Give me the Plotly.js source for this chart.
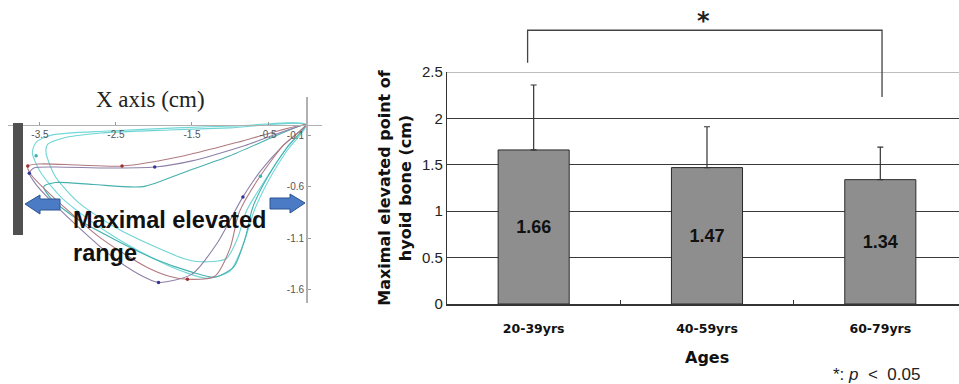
<!DOCTYPE html>
<html><head><meta charset="utf-8">
<script src="https://cdn.plot.ly/plotly-3.0.1.min.js"></script>
<style>html,body{margin:0;padding:0;background:#fff}#chart{width:959px;height:384px}</style>
</head><body><div id="chart"></div>
<script>
// ---- Bar chart data ----
const categories = ['20-39yrs', '40-59yrs', '60-79yrs'];
const means = [1.66, 1.47, 1.34];
const sdPlus = [0.70, 0.44, 0.35];
const yTickVals = [0, 0.5, 1, 1.5, 2, 2.5];
const yTickText = ['0', '0.5', '1', '1.5', '2', '2.5'];
// significance bracket (category index, bracket heights in cm)
const sigFrom = 0, sigTo = 2;
const sigTop = 2.95, sigLeftEnd = 2.60, sigRightEnd = 2.23;

// ---- Hyoid trajectory data (cm) ----
const trajXTicks = [-3.5, -2.5, -1.5, -0.5];
const trajYTicks = [-0.1, -0.6, -1.1, -1.6];
const cyanAX = [0, -0.9, -1.7, -2.6, -3.35, -3.55, -3.6, -3.5, -3.2, -2.6, -2.0, -1.6, -1.3, -1.0, -0.82, -0.68, -0.5, -0.25, 0];
const cyanAY = [0, -0.01, -0.03, -0.06, -0.1, -0.17, -0.27, -0.45, -0.72, -1.05, -1.3, -1.43, -1.49, -1.42, -1.15, -0.83, -0.55, -0.25, 0];
const cyanBX = [0, -1.0, -1.8, -2.7, -3.2, -3.4, -3.42, -3.3, -3.0, -2.5, -2.0, -1.6, -1.39, -1.05, -0.9, -0.78, -0.55, -0.25, 0];
const cyanBY = [0, -0.03, -0.05, -0.08, -0.13, -0.19, -0.27, -0.5, -0.75, -1.0, -1.18, -1.3, -1.33, -1.3, -1.1, -0.83, -0.55, -0.22, 0];
const tealX = [0, -1.0, -1.6, -2.14, -2.8, -3.3, -3.45, -3.35, -3.0, -2.5, -2.0, -1.5, -1.2, -0.95, -0.8, -0.7, -0.5, -0.25, 0];
const tealY = [0, -0.3, -0.46, -0.60, -0.58, -0.56, -0.6, -0.72, -0.92, -1.12, -1.3, -1.43, -1.48, -1.38, -1.1, -0.8, -0.5, -0.22, 0];
const purpleX = [0, -0.8, -1.5, -1.99, -2.6, -3.3, -3.58, -3.64, -3.55, -3.2, -2.6, -2.2, -1.94, -1.5, -1.17, -0.93, -0.83, -0.6, -0.3, 0];
const purpleY = [0, -0.2, -0.35, -0.41, -0.42, -0.41, -0.42, -0.47, -0.58, -0.85, -1.25, -1.45, -1.53, -1.45, -1.15, -0.83, -0.70, -0.45, -0.2, 0];
const redX = [0, -0.9, -1.6, -2.42, -3.0, -3.5, -3.66, -3.62, -3.3, -2.7, -2.1, -1.8, -1.56, -1.2, -1.0, -0.88, -0.65, -0.3, 0];
const redY = [0, -0.17, -0.3, -0.40, -0.39, -0.38, -0.4, -0.48, -0.72, -1.1, -1.38, -1.47, -1.50, -1.47, -1.2, -0.85, -0.55, -0.2, 0];
const dotX = [-1.99, -2.42, -3.64, -3.66, -1.94, -1.56, -0.83, -3.55, -0.6];
const dotY = [-0.41, -0.40, -0.47, -0.40, -1.53, -1.50, -0.70, -0.3, -0.5];
const dotColor = ['#33339a', '#a03030', '#33339a', '#a03030', '#33339a', '#a03030', '#33339a', '#40b0b0', '#40b0b0'];

const W = 959, H = 384;
const px = x => x / W;
const py = y => 1 - y / H;

// layout geometry
const barXDom = [px(447), 1];
const barYDom = [py(304), py(72)];
const barYRange = [0, 2.5];
const barXRange = [-0.5, 2.454];
const trXDom = [px(8), px(322)];
const trYDom = [py(303), py(97)];
const trXRange = [-3.92, 0.21];
const trYRange = [-1.73, 0.27];

const yToPaper = v => barYDom[0] + (v - barYRange[0]) / (barYRange[1] - barYRange[0]) * (barYDom[1] - barYDom[0]);
const trX0 = trXDom[0] + (0 - trXRange[0]) / (trXRange[1] - trXRange[0]) * (trXDom[1] - trXDom[0]);
const trY0 = trYDom[0] + (0 - trYRange[0]) / (trYRange[1] - trYRange[0]) * (trYDom[1] - trYDom[0]);

const loop = (x, y, color) => ({
  type: 'scatter', mode: 'lines', x: x, y: y, xaxis: 'x2', yaxis: 'y2',
  line: {color: color, width: 1.1, shape: 'spline', smoothing: 0.7}, hoverinfo: 'skip', showlegend: false
});

const traces = [
  {
    type: 'bar', x: categories, y: means, width: 0.41,
    marker: {color: '#8e8e8e', line: {color: '#2a2a2a', width: 1}},
    text: means.map(v => v.toFixed(2)), textposition: 'inside', insidetextanchor: 'middle',
    textangle: 0,
    textfont: {family: 'Liberation Sans, Arial, sans-serif', size: 18, color: '#111', weight: 'bold'},
    error_y: {type: 'data', symmetric: false, array: sdPlus, arrayminus: sdPlus.map(() => 0),
      color: '#333', thickness: 1.2, width: 3},
    showlegend: false, hoverinfo: 'skip'
  },
  loop(cyanAX, cyanAY, '#72d8d8'),
  loop(cyanBX, cyanBY, '#6fd4d4'),
  loop(tealX, tealY, '#45b0ae'),
  loop(purpleX, purpleY, '#8e80a8'),
  loop(redX, redY, '#b07a80'),
  {type: 'scatter', mode: 'markers', x: dotX, y: dotY, xaxis: 'x2', yaxis: 'y2',
   marker: {color: dotColor, size: 3.5}, showlegend: false, hoverinfo: 'skip'}
];

const layout = {
  width: W, height: H,
  margin: {l: 0, r: 0, t: 0, b: 0},
  paper_bgcolor: '#fff', plot_bgcolor: 'rgba(0,0,0,0)',
  showlegend: false,
  xaxis: {
    domain: barXDom, range: barXRange, type: 'category',
    showline: true, linecolor: '#333', linewidth: 1.5,
    ticks: 'inside', tickson: 'boundaries', ticklen: 4, tickcolor: '#333',
    ticklabelstandoff: 12,
    showgrid: false, zeroline: false,
    tickfont: {family: 'DejaVu Sans, sans-serif', size: 12.5, color: '#111', weight: 'bold'},
    fixedrange: true
  },
  yaxis: {
    domain: barYDom, range: barYRange,
    tickvals: yTickVals, ticktext: yTickText,
    showline: true, linecolor: '#333', linewidth: 1.2,
    showgrid: true, gridcolor: '#3a3a3a', gridwidth: 1,
    zeroline: false, ticks: '', ticklen: 0,
    tickfont: {family: 'Liberation Sans Narrow, Arial Narrow, Liberation Sans, sans-serif', size: 15, color: '#222'},
    title: {text: 'Maximal elevated point of<br>hyoid bone (cm)', standoff: 6,
      font: {family: 'DejaVu Sans, sans-serif', size: 16, color: '#111', weight: 'bold'}},
    fixedrange: true
  },
  xaxis2: {
    domain: trXDom, range: trXRange, anchor: 'free', position: trY0,
    showline: true, linecolor: '#b0b0b0', linewidth: 1.5,
    tickvals: trajXTicks, ticktext: trajXTicks.map(String),
    ticks: 'inside', ticklen: 3, tickcolor: '#999',
    showgrid: false, zeroline: false,
    tickfont: {family: 'Liberation Sans, Arial, sans-serif', size: 10, color: '#555'},
    fixedrange: true
  },
  yaxis2: {
    domain: trYDom, range: trYRange, anchor: 'free', position: trX0,
    showline: true, linecolor: '#b0b0b0', linewidth: 1.5,
    tickvals: trajYTicks, ticktext: trajYTicks.map(String),
    ticks: 'inside', ticklen: 3, tickcolor: '#999',
    showgrid: false, zeroline: false,
    tickfont: {family: 'Liberation Sans, Arial, sans-serif', size: 10, color: '#555'},
    fixedrange: true
  },
  shapes: [
    {type: 'line', xref: 'paper', yref: 'y', x0: barXDom[0], x1: 1, y0: 2.5, y1: 2.5,
     line: {color: '#a8a8a8', width: 1.5}},
    {type: 'path', xref: 'x', yref: 'paper',
     path: `M ${sigFrom - 0.035},${yToPaper(sigLeftEnd)} L ${sigFrom - 0.035},${yToPaper(sigTop)} L ${sigTo + 0.01},${yToPaper(sigTop)} L ${sigTo + 0.01},${yToPaper(sigRightEnd)}`,
     line: {color: '#444', width: 1.3}},
    {type: 'rect', xref: 'paper', yref: 'paper', x0: px(13), x1: px(23), y0: py(235), y1: py(123),
     fillcolor: '#505050', line: {width: 0}},
    {type: 'path', xref: 'paper', yref: 'paper',
     path: `M ${px(25)},${py(204)} L ${px(40)},${py(195)} L ${px(40)},${py(199)} L ${px(60)},${py(199)} L ${px(60)},${py(210)} L ${px(40)},${py(210)} L ${px(40)},${py(214)} Z`,
     fillcolor: '#4a7bc4', line: {color: '#2c5494', width: 1}},
    {type: 'path', xref: 'paper', yref: 'paper',
     path: `M ${px(305)},${py(203)} L ${px(290)},${py(194)} L ${px(290)},${py(198)} L ${px(270)},${py(198)} L ${px(270)},${py(209)} L ${px(290)},${py(209)} L ${px(290)},${py(213)} Z`,
     fillcolor: '#4a7bc4', line: {color: '#2c5494', width: 1}}
  ],
  annotations: [
    {xref: 'x', yref: 'paper', x: (sigFrom + sigTo) / 2 - 0.02, y: py(21), text: '<b>*</b>', showarrow: false,
     font: {family: 'DejaVu Sans, sans-serif', size: 24, color: '#222'}, xanchor: 'center', yanchor: 'middle'},
    {xref: 'x', yref: 'paper', x: 1, y: py(357), text: 'Ages', showarrow: false,
     font: {family: 'DejaVu Sans, sans-serif', size: 16, color: '#111', weight: 'bold'}, xanchor: 'center', yanchor: 'middle'},
    {xref: 'paper', yref: 'paper', x: px(876), y: py(374), text: '*: <i>p</i>  &lt;  0.05', showarrow: false,
     font: {family: 'Liberation Sans, Arial, sans-serif', size: 17, color: '#222'}, xanchor: 'center', yanchor: 'middle'},
    {xref: 'paper', yref: 'paper', x: px(150), y: py(99), text: 'X axis (cm)', showarrow: false,
     font: {family: 'Liberation Serif, Times New Roman, serif', size: 23, color: '#222'}, xanchor: 'center', yanchor: 'middle'},
    {xref: 'paper', yref: 'paper', x: px(71), y: py(220), text: 'Maximal elevated', showarrow: false,
     font: {family: 'Liberation Sans, Arial, sans-serif', size: 23.5, color: '#111', weight: 'bold'}, xanchor: 'left', yanchor: 'middle'},
    {xref: 'paper', yref: 'paper', x: px(71), y: py(253), text: 'range', showarrow: false,
     font: {family: 'Liberation Sans, Arial, sans-serif', size: 23.5, color: '#111', weight: 'bold'}, xanchor: 'left', yanchor: 'middle'}
  ]
};

Plotly.newPlot('chart', traces, layout, {displayModeBar: false, staticPlot: true});
</script>
</body></html>
